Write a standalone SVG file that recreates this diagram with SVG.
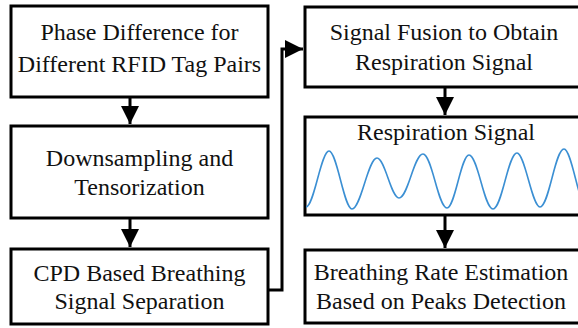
<svg xmlns="http://www.w3.org/2000/svg" width="578" height="328" viewBox="0 0 578 328">
<style>
.box{fill:#fff;stroke:#000;stroke-width:3}
.ln{fill:none;stroke:#000;stroke-width:3}
.wave{fill:none;stroke:#3b8fd3;stroke-width:1.6}
</style>
<defs>
<marker id="ah" viewBox="0 0 10 10" refX="10" refY="5" markerWidth="6" markerHeight="6" markerUnits="strokeWidth" orient="auto">
<path d="M0,0 L10,5 L0,10 Z" fill="#000"/>
</marker>
</defs>
<rect width="578" height="328" fill="#fff"/>
<g id="connectors">
<line class="ln" x1="130" y1="97" x2="130" y2="124" marker-end="url(#ah)"/>
<line class="ln" x1="130" y1="218" x2="130" y2="247" marker-end="url(#ah)"/>
<polyline class="ln" points="268,290 282,290 282,49 303,49" marker-end="url(#ah)"/>
<line class="ln" x1="445" y1="87" x2="445" y2="115" marker-end="url(#ah)"/>
<line class="ln" x1="445" y1="215" x2="445" y2="248" marker-end="url(#ah)"/>
</g>
<g font-family="Liberation Serif, serif" font-size="24" fill="#111" text-anchor="middle">
<g id="n1">
<rect class="box" x="11" y="6" width="257" height="91"/>
<text x="139.5" y="40">Phase Difference for</text>
<text x="139.5" y="72">Different RFID Tag Pairs</text>
</g>
<g id="n2">
<rect class="box" x="11" y="126" width="257" height="92"/>
<text x="139.5" y="166">Downsampling and</text>
<text x="139.5" y="195">Tensorization</text>
</g>
<g id="n3">
<rect class="box" x="11" y="249" width="257" height="75"/>
<text x="139.5" y="281">CPD Based Breathing</text>
<text x="139.5" y="309">Signal Separation</text>
</g>
<g id="n4">
<rect class="box" x="305" y="7" width="278" height="80"/>
<text x="444" y="40">Signal Fusion to Obtain</text>
<text x="444" y="70">Respiration Signal</text>
</g>
<g id="n5">
<rect class="box" x="305" y="117" width="278" height="98"/>
<text x="446" y="140">Respiration Signal</text>
<path class="wave" d="M306,207 C314,207 321,151 329,151 C337,151 344,209 352,209 C361,209 368,158 377,158 C385,158 391,198 399,198 C408,198 414,154 423,154 C432,154 438,208 447,208 C455,208 461,155 469,155 C478,155 484,209 493,209 C502,209 508,153 517,153 C525,153 532,207 540,207 C549,207 555,149 564,149 C572,149 579,208 587,208"/>
</g>
<g id="n6">
<rect class="box" x="305" y="250" width="278" height="73"/>
<text x="441" y="280">Breathing Rate Estimation</text>
<text x="441" y="309">Based on Peaks Detection</text>
</g>
</g>
</svg>
